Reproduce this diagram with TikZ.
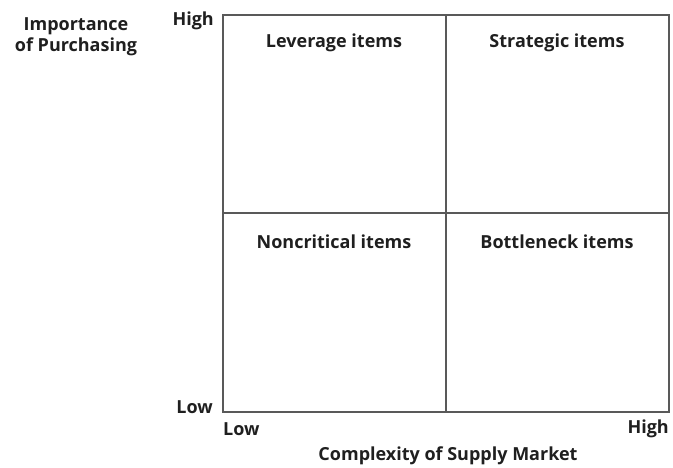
\documentclass[tikz,border=0pt]{standalone}
\usepackage{fontspec}
\setmainfont{Open Sans}
\usetikzlibrary{positioning}

\tikzset{
  gridline/.style={draw=black!65, line width=1.4pt},
  lbl/.style={font=\fontsize{18}{21}\selectfont\bfseries, text=black!88, inner sep=0pt},
}

\begin{document}
\begin{tikzpicture}[x=1pt,y=-1pt]
				\useasboundingbox (0,0) rectangle (673,467);
				% grid corners
				\coordinate (tl) at (223,15);
				\coordinate (br) at (669,412);
				\coordinate (tm) at (446,15);
				\coordinate (bm) at (446,412);
				\coordinate (lm) at (223,213);
				\coordinate (rm) at (669,213);
				
				\draw[gridline] (tl) rectangle (br);
				\draw[gridline] (tm) -- (bm);
				\draw[gridline] (lm) -- (rm);
				
				% quadrant labels
				\node[lbl] (lev) at (334,43) {Leverage items};
				\node[lbl] (str) at (557,43) {Strategic items};
				\node[lbl] (non) at (334,242) {Noncritical items};
				\node[lbl] (bot) at (557,242) {Bottleneck items};
				
				% axes
				\node[lbl, anchor=east] (yhigh) at (214,21) {High};
				\node[lbl, anchor=east] (ylow) at (213,407) {Low};
				\node[lbl, anchor=west] (xlow) at (223,429) {Low};
				\node[lbl, anchor=east] (xhigh) at (669,429) {High};
				\node[lbl, align=center] (ytitle) at (76,37) {Importance\\of Purchasing};
				\node[lbl] (xtitle) at (448,456) {Complexity of Supply Market};
			\end{tikzpicture}
\end{document}
